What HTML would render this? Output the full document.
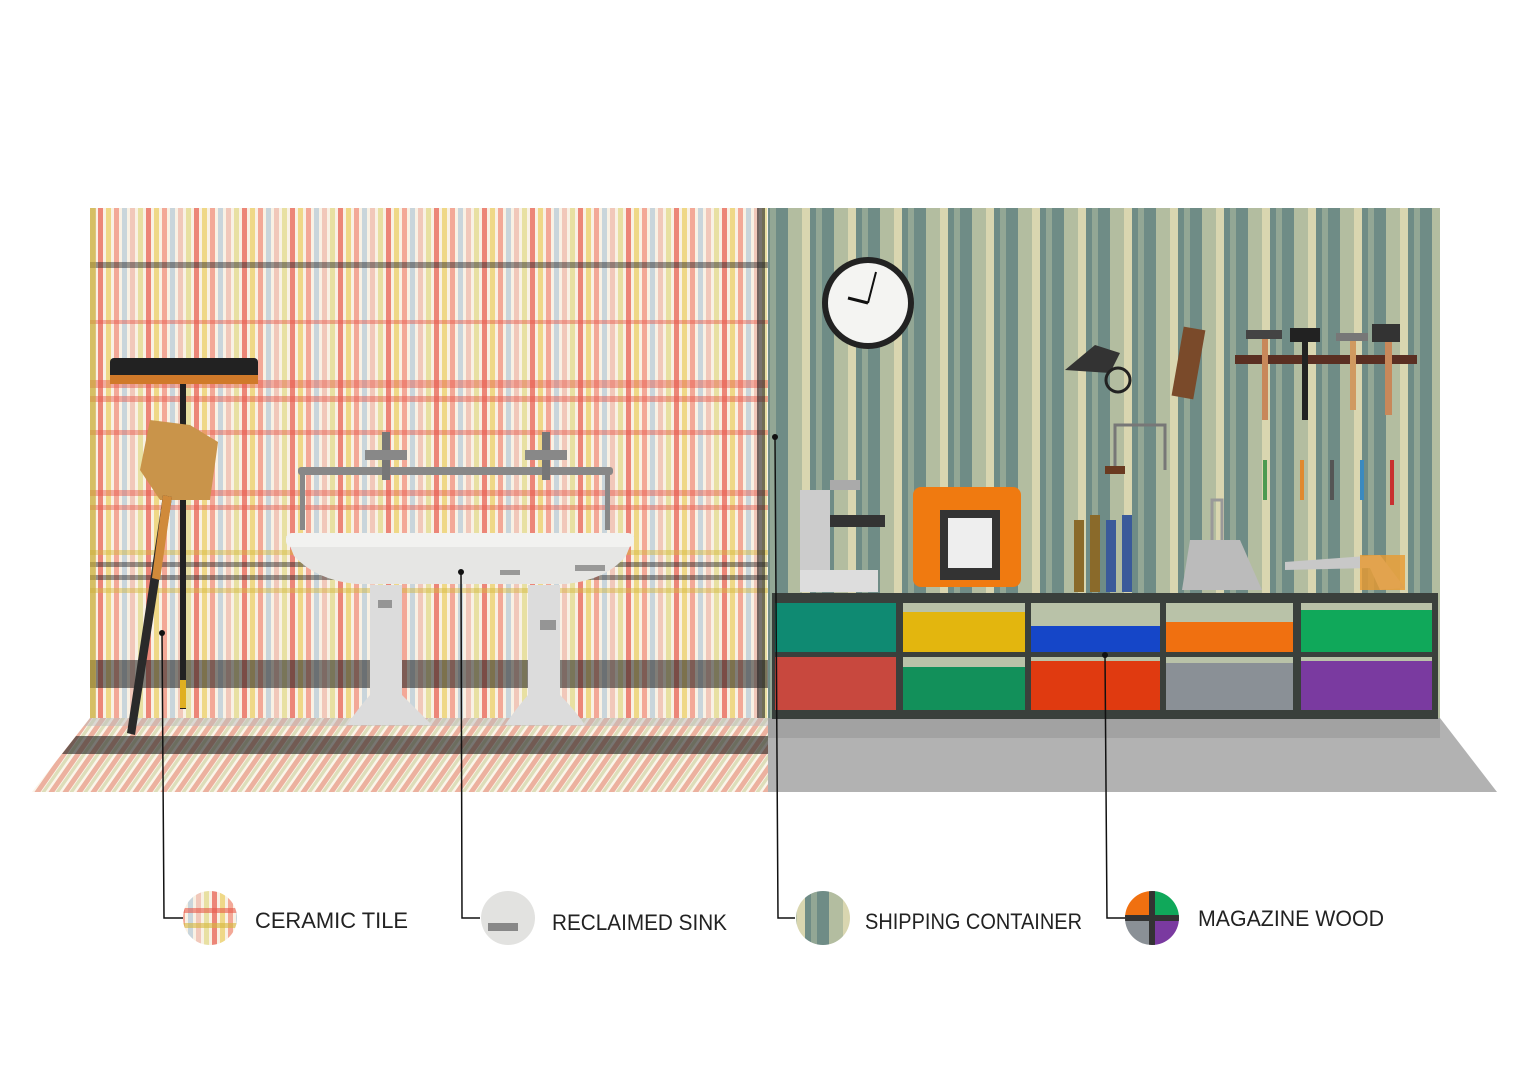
<!DOCTYPE html>
<html><head><meta charset="utf-8"><style>
body{margin:0;background:#fff;width:1528px;height:1080px;overflow:hidden}
svg{display:block}
.t{font-family:"Liberation Sans",sans-serif;font-size:22px;fill:#222}
</style></head><body>
<svg width="1528" height="1080" viewBox="0 0 1528 1080">
<defs>
<pattern id="vs" width="48" height="10" patternUnits="userSpaceOnUse">
<rect width="48" height="10" fill="#f9f1e4"/>
<rect x="2" width="5" height="10" fill="#e8584a" opacity=".7"/>
<rect x="10" width="5" height="10" fill="#e8c84a" opacity=".6"/>
<rect x="18" width="5" height="10" fill="#ef6b58" opacity=".55"/>
<rect x="26" width="5" height="10" fill="#a9c3d6" opacity=".6"/>
<rect x="34" width="5" height="10" fill="#e9a090" opacity=".5"/>
<rect x="42" width="5" height="10" fill="#d8d060" opacity=".5"/>
</pattern>
<pattern id="gs" width="46" height="10" patternUnits="userSpaceOnUse">
<rect width="46" height="10" fill="#6f8c86"/>
<rect x="6" width="14" height="10" fill="#b3bda0"/>
<rect x="20" width="8" height="10" fill="#d9d6b0"/>
<rect x="34" width="6" height="10" fill="#93a795"/>
</pattern>
<pattern id="fs" width="14" height="10" patternUnits="userSpaceOnUse" patternTransform="skewX(-35)">
<rect width="14" height="10" fill="#fbf5ea"/>
<rect x="1" width="6" height="10" fill="#e07a60" opacity=".55"/>
<rect x="8" width="4" height="10" fill="#c9cf9a" opacity=".6"/>
</pattern>
<clipPath id="cc"><circle cx="0" cy="0" r="27"/></clipPath>
</defs>

<rect x="90" y="208" width="678" height="510" fill="url(#vs)"/>
<g opacity=".45">
<rect x="90" y="262" width="678" height="6" fill="#222"/>
<rect x="90" y="320" width="678" height="4" fill="#e8584a"/>
<rect x="90" y="380" width="678" height="8" fill="#e8584a"/>
<rect x="90" y="396" width="678" height="6" fill="#e8584a"/>
<rect x="90" y="430" width="678" height="5" fill="#e8584a"/>
<rect x="90" y="490" width="678" height="6" fill="#e8584a"/>
<rect x="90" y="505" width="678" height="5" fill="#e8584a"/>
<rect x="90" y="550" width="678" height="5" fill="#d6b83a"/>
<rect x="90" y="562" width="678" height="5" fill="#222"/>
<rect x="90" y="575" width="678" height="5" fill="#222"/>
<rect x="90" y="588" width="678" height="5" fill="#d6b83a"/>
</g>
<rect x="90" y="660" width="678" height="28" fill="#1e1e1e" opacity=".55"/>
<rect x="90" y="208" width="6" height="510" fill="#c9a93a" opacity=".6"/>
<rect x="757" y="208" width="8" height="510" fill="#222" opacity=".6"/>
<polygon points="90,718 768,718 768,792 32,792" fill="url(#fs)"/>
<polygon points="76,736 768,736 768,754 62,754" fill="#222" opacity=".6"/>
<polygon points="90,718 768,718 768,726 84,726" fill="#bbb" opacity=".5"/>

<rect x="768" y="208" width="672" height="510" fill="url(#gs)"/>
<polygon points="768,718 1440,718 1497,792 768,792" fill="#b2b2b2"/>
<rect x="768" y="718" width="672" height="20" fill="#a2a2a2"/>

<rect x="772" y="593" width="666" height="126" fill="#3a403c"/>
<g>
<rect x="775" y="603" width="121" height="49" fill="#0f8a72"/>
<rect x="903" y="612" width="122" height="40" fill="#e3b60e"/>
<rect x="1031" y="626" width="129" height="26" fill="#1546c8"/>
<rect x="1166" y="622" width="127" height="30" fill="#f07010"/>
<rect x="1301" y="610" width="131" height="42" fill="#10a85a"/>
<rect x="775" y="657" width="121" height="53" fill="#c8483e"/>
<rect x="903" y="667" width="122" height="43" fill="#12905a"/>
<rect x="1031" y="661" width="129" height="49" fill="#e03a10"/>
<rect x="1166" y="663" width="127" height="47" fill="#8a9096"/>
<rect x="1301" y="661" width="131" height="49" fill="#7a3aa0"/>
<rect x="903" y="603" width="122" height="9" fill="#b9c2a8"/>
<rect x="1031" y="603" width="129" height="23" fill="#b9c2a8"/>
<rect x="1166" y="603" width="127" height="19" fill="#b9c2a8"/>
<rect x="1301" y="603" width="131" height="7" fill="#b9c2a8"/>
<rect x="903" y="657" width="122" height="10" fill="#b9c2a8"/>
<rect x="1031" y="657" width="129" height="4" fill="#b9c2a8"/>
<rect x="1166" y="657" width="127" height="6" fill="#b9c2a8"/>
<rect x="1301" y="657" width="131" height="4" fill="#b9c2a8"/>
</g>

<circle cx="868" cy="303" r="46" fill="#222"/>
<circle cx="868" cy="303" r="40" fill="#f4f4f2"/>
<line x1="868" y1="303" x2="848" y2="298" stroke="#111" stroke-width="3"/>
<line x1="868" y1="303" x2="876" y2="272" stroke="#111" stroke-width="2"/>

<rect x="1235" y="355" width="182" height="9" fill="#5a2f22"/>
<rect x="1262" y="335" width="6" height="85" fill="#c8885a"/><rect x="1246" y="330" width="36" height="9" fill="#444"/>
<rect x="1302" y="335" width="6" height="85" fill="#222"/><rect x="1290" y="328" width="30" height="14" fill="#222"/>
<rect x="1350" y="340" width="6" height="70" fill="#d09a60"/><rect x="1336" y="333" width="32" height="8" fill="#777"/>
<rect x="1385" y="340" width="7" height="75" fill="#c8885a"/><rect x="1372" y="324" width="28" height="18" fill="#333"/>
<path d="M1065 370 l30 -25 l25 8 l-10 20 z" fill="#333"/><circle cx="1118" cy="380" r="12" fill="none" stroke="#222" stroke-width="3"/>
<rect x="1178" y="328" width="22" height="70" fill="#7a4a2a" transform="rotate(10 1189 360)"/>
<path d="M1115 470 v-45 h50 v45" fill="none" stroke="#777" stroke-width="3"/><rect x="1105" y="466" width="20" height="8" fill="#6a3a20"/>
<g fill="#4a9a50"><rect x="1263" y="460" width="4" height="40"/><rect x="1300" y="460" width="4" height="40" fill="#e08a30"/><rect x="1330" y="460" width="4" height="40" fill="#555"/><rect x="1360" y="460" width="4" height="40" fill="#3a8ac0"/><rect x="1390" y="460" width="4" height="45" fill="#c83030"/></g>
<polygon points="1285,562 1380,555 1405,588 1380,590 1370,568 1285,570" fill="#c8c8c8"/><rect x="1360" y="555" width="45" height="35" fill="#e89a30" opacity=".8"/>
<path d="M1182 590 l8 -50 h50 l22 50 z" fill="#bbb"/><path d="M1212 540 v-40 h10 v40" fill="none" stroke="#999" stroke-width="3"/>
<rect x="1074" y="520" width="10" height="72" fill="#8a6a2a"/><rect x="1090" y="515" width="10" height="77" fill="#8a6a2a"/><rect x="1106" y="520" width="10" height="72" fill="#3a5a9a"/><rect x="1122" y="515" width="10" height="77" fill="#3a5a9a"/>
<rect x="913" y="487" width="108" height="100" rx="8" fill="#f07a10"/><rect x="940" y="510" width="60" height="70" fill="#333"/><rect x="948" y="518" width="44" height="50" fill="#eee"/>
<rect x="800" y="490" width="30" height="100" fill="#ccc"/><rect x="800" y="570" width="78" height="22" fill="#ddd"/><rect x="830" y="515" width="55" height="12" fill="#333"/><rect x="830" y="480" width="30" height="10" fill="#aaa"/>

<rect x="110" y="358" width="148" height="22" rx="4" fill="#222"/><rect x="110" y="375" width="148" height="9" fill="#d07a2a"/>
<rect x="180" y="384" width="6" height="325" fill="#222"/><rect x="180" y="680" width="6" height="28" fill="#e0b020"/>
<polygon points="150,420 190,425 218,442 210,500 160,500 140,470" fill="#c9944a"/>
<polygon points="163,495 172,497 135,735 127,733" fill="#2a2a2a"/><polygon points="163,495 172,497 160,580 152,578" fill="#d08a3a"/>

<rect x="298" y="467" width="315" height="8" rx="3" fill="#888"/>
<rect x="300" y="470" width="5" height="60" fill="#888"/><rect x="605" y="470" width="5" height="60" fill="#888"/>
<rect x="382" y="432" width="8" height="48" fill="#777"/><rect x="542" y="432" width="8" height="48" fill="#777"/>
<rect x="365" y="450" width="42" height="10" fill="#888"/><rect x="525" y="450" width="42" height="10" fill="#888"/>
<path d="M286 536 h348 l-8 20 q-20 24 -60 28 h-210 q-40 -4 -62 -28 z" fill="#e6e6e4"/>
<rect x="286" y="533" width="348" height="14" rx="6" fill="#f2f2f0"/>
<path d="M370 585 h32 v110 q20 20 30 30 h-85 q10 -15 23 -30 z" fill="#dcdcdc"/>
<path d="M528 585 h32 v110 q15 15 25 30 h-80 q10 -15 23 -30 z" fill="#dcdcdc"/>
<g fill="#666" opacity=".6"><rect x="378" y="600" width="14" height="8"/><rect x="540" y="620" width="16" height="10"/><rect x="575" y="565" width="30" height="6"/><rect x="500" y="570" width="20" height="5"/></g>

<g stroke="#111" stroke-width="1.5" fill="none">
<polyline points="162,633 164,918 183,918"/>
<polyline points="461,572 462,918 480,918"/>
<polyline points="775,437 778,918 795,918"/>
<polyline points="1105,655 1107,918 1125,918"/>
</g>
<g fill="#111"><circle cx="162" cy="633" r="3"/><circle cx="461" cy="572" r="3"/><circle cx="775" cy="437" r="3"/><circle cx="1105" cy="655" r="3"/></g>

<g transform="translate(210,918)"><g clip-path="url(#cc)"><rect x="-27" y="-27" width="54" height="54" fill="url(#vs)"/><rect x="-27" y="-10" width="54" height="5" fill="#e8584a" opacity=".6"/><rect x="-27" y="5" width="54" height="5" fill="#d6b83a" opacity=".6"/></g></g>
<g transform="translate(508,918)"><g clip-path="url(#cc)"><rect x="-27" y="-27" width="54" height="54" fill="#e2e2e0"/><rect x="-20" y="5" width="30" height="8" fill="#888"/></g></g>
<g transform="translate(823,918)"><g clip-path="url(#cc)"><rect x="-27" y="-27" width="54" height="54" fill="url(#gs)"/></g></g>
<g transform="translate(1152,918)"><g clip-path="url(#cc)"><rect x="-27" y="-27" width="27" height="27" fill="#f07010"/><rect x="0" y="-27" width="27" height="27" fill="#10a85a"/><rect x="-27" y="0" width="27" height="27" fill="#8a9096"/><rect x="0" y="0" width="27" height="27" fill="#7a3aa0"/><rect x="-3" y="-27" width="6" height="54" fill="#333"/><rect x="-27" y="-3" width="54" height="6" fill="#333"/></g></g>

<text class="t" x="255" y="928" textLength="153" lengthAdjust="spacingAndGlyphs">CERAMIC TILE</text>
<text class="t" x="552" y="930" textLength="175" lengthAdjust="spacingAndGlyphs">RECLAIMED SINK</text>
<text class="t" x="865" y="929" textLength="217" lengthAdjust="spacingAndGlyphs">SHIPPING CONTAINER</text>
<text class="t" x="1198" y="926" textLength="186" lengthAdjust="spacingAndGlyphs">MAGAZINE WOOD</text>
</svg>
</body></html>
